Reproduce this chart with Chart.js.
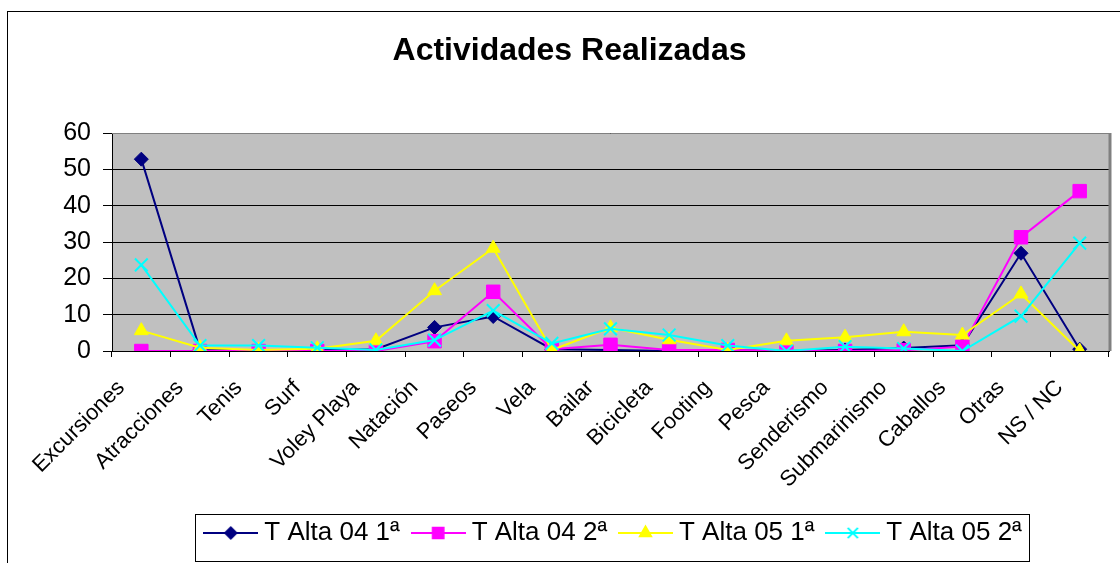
<!DOCTYPE html>
<html>
<head>
<meta charset="utf-8">
<script src="https://cdn.jsdelivr.net/npm/chart.js@4.4.1/dist/chart.umd.min.js"></script>
<style>
  body { margin: 0; background: #fff; }
  canvas { display: block; }
</style>
</head>
<body>
<canvas id="grafico" width="1120" height="563"></canvas>
<script>
// datos
const categorias = ['Excursiones', 'Atracciones', 'Tenis', 'Surf', 'Voley Playa', 'Natación', 'Paseos', 'Vela', 'Bailar',
    'Bicicleta', 'Footing', 'Pesca', 'Senderismo', 'Submarinismo', 'Caballos', 'Otras', 'NS / NC'];
const alta04_1 = [52.8, 0.3, 0.2, 0.2, 0.5, 6.5, 9.5, 0.5, 0.3, 0, 0.2, 0, 0.3, 0.8, 1.6, 26.9, 0.5];
const alta04_2 = [0, 0, 0, 0, 0, 2.7, 16.3, 0.5, 1.7, 0.3, 0.3, 0, 0, 0.2, 1.2, 31.3, 44];
const alta05_1 = [5.6, 0.9, 0.3, 0.6, 2.8, 16.6, 28.3, 0.3, 6.4, 3.1, 0.3, 2.8, 3.8, 5.3, 4.4, 15.7, 0];
const alta05_2 = [23.7, 1.5, 1.5, 0.9, 0.3, 3.0, 11.1, 2.1, 6.1, 4.4, 1.5, 0, 1.2, 0.7, 0, 9.6, 29.7];
const nombres = ['T Alta 04 1ª', 'T Alta 04 2ª', 'T Alta 05 1ª', 'T Alta 05 2ª'];
const ticksY = [0, 10, 20, 30, 40, 50, 60];

const fuente = "'Liberation Sans', Arial, sans-serif";
const colores = ['#000080', '#FF00FF', '#FFFF00', '#00FFFF'];
const marcas = ['rectRot', 'rect', 'triangle', 'crossRot'];
const radios = [7, 9.5, 8, 9];

// icono de leyenda: linea + marcador
function iconoLeyenda(i) {
    const c = document.createElement('canvas');
    c.width = 55;
    c.height = 20;
    const ctx = c.getContext('2d');
    ctx.strokeStyle = colores[i];
    ctx.fillStyle = colores[i];
    ctx.lineWidth = 2;
    ctx.beginPath();
    ctx.moveTo(0, 10);
    ctx.lineTo(55, 10);
    ctx.stroke();
    Chart.helpers.drawPoint(ctx, {pointStyle: marcas[i], radius: radios[i] * 0.8, borderWidth: i == 3 ? 2 : 1}, 27.5, 10);
    if (i != 3) ctx.fill();
    return c;
}

const series = [alta04_1, alta04_2, alta05_1, alta05_2];
const datasets = series.map((valores, i) => {
    return {
        label: nombres[i],
        data: valores,
        borderColor: colores[i],
        backgroundColor: colores[i],
        borderWidth: 2,
        pointStyle: marcas[i],
        pointRadius: radios[i],
        pointBorderWidth: i == 3 ? 2 : 1,
        pointBackgroundColor: colores[i],
        pointBorderColor: colores[i],
        tension: 0,
        order: 3 - i
    };
});

const iconos = [0, 1, 2, 3].map(iconoLeyenda);

const fondo = {
    id: 'fondo',
    afterLayout(chart) {
        chart.legend.left = 112;
        chart.legend.right = 1120;
        chart.titleBlock.left = 26;
        chart.titleBlock.right = 1113;
    },
    beforeDraw(chart) {
        const {ctx, chartArea: a} = chart;
        ctx.save();
        ctx.fillStyle = '#C0C0C0';
        ctx.fillRect(a.left, a.top, a.right - a.left, a.bottom - a.top);
        ctx.restore();
    },
    beforeDatasetsDraw(chart) {
        const {ctx, chartArea: a} = chart;
        ctx.save();
        ctx.strokeStyle = '#808080';
        ctx.lineWidth = 1;
        ctx.beginPath();
        ctx.moveTo(a.left, a.top + 0.5);
        ctx.lineTo(a.right, a.top + 0.5);
        ctx.stroke();
        ctx.lineWidth = 3;
        ctx.beginPath();
        ctx.moveTo(a.right + 1, a.top);
        ctx.lineTo(a.right + 1, a.bottom);
        ctx.stroke();
        ctx.restore();
    },
    afterDraw(chart) {
        const ctx = chart.ctx;
        ctx.save();
        ctx.strokeStyle = '#000';
        ctx.lineWidth = 1;
        ctx.strokeRect(7.5, 11.5, 1200, 600);
        ctx.strokeRect(195.5, 514.5, 834, 47);
        ctx.restore();
    }
};

new Chart(document.querySelector('#grafico'), {
    type: 'line',
    data: {labels: categorias, datasets},
    plugins: [fondo],
    options: {
        responsive: false,
        animation: false,
        layout: {padding: {left: 0, right: 7, top: 0, bottom: 7}},
        plugins: {
            title: {
                display: true,
                text: 'Actividades Realizadas',
                color: '#000',
                font: {family: fuente, size: 32, weight: 'bold', lineHeight: 1.2},
                padding: {top: 32, bottom: 62.6}
            },
            legend: {
                position: 'bottom',
                labels: {
                    color: '#000',
                    font: {family: fuente, size: 26},
                    usePointStyle: true,
                    pointStyleWidth: 41,
                    padding: 18,
                    sort: (a, b) => a.datasetIndex - b.datasetIndex,
                    generateLabels(chart) {
                        const items = Chart.defaults.plugins.legend.labels.generateLabels(chart);
                        items.forEach((it) => { it.pointStyle = iconos[it.datasetIndex]; });
                        return items;
                    }
                }
            },
            tooltip: {enabled: false}
        },
        scales: {
            x: {
                offset: true,
                grid: {drawOnChartArea: false, drawTicks: true, tickLength: 6, color: '#000', offset: true},
                border: {color: '#000'},
                ticks: {
                    color: '#000',
                    autoSkip: false,
                    maxRotation: 45,
                    minRotation: 45,
                    padding: 18,
                    labelOffset: -20,
                    font: {family: fuente, size: 22}
                },
                afterFit(scale) { scale.height = 151; }
            },
            y: {
                min: 0,
                max: 60,
                afterBuildTicks(scale) { scale.ticks = ticksY.map(v => ({value: v})); },
                grid: {color: '#000', tickLength: 9},
                border: {color: '#000'},
                ticks: {color: '#000', padding: 12, font: {family: fuente, size: 25}},
                afterFit(scale) { scale.width = 112; }
            }
        }
    }
});
</script>
</body>
</html>
